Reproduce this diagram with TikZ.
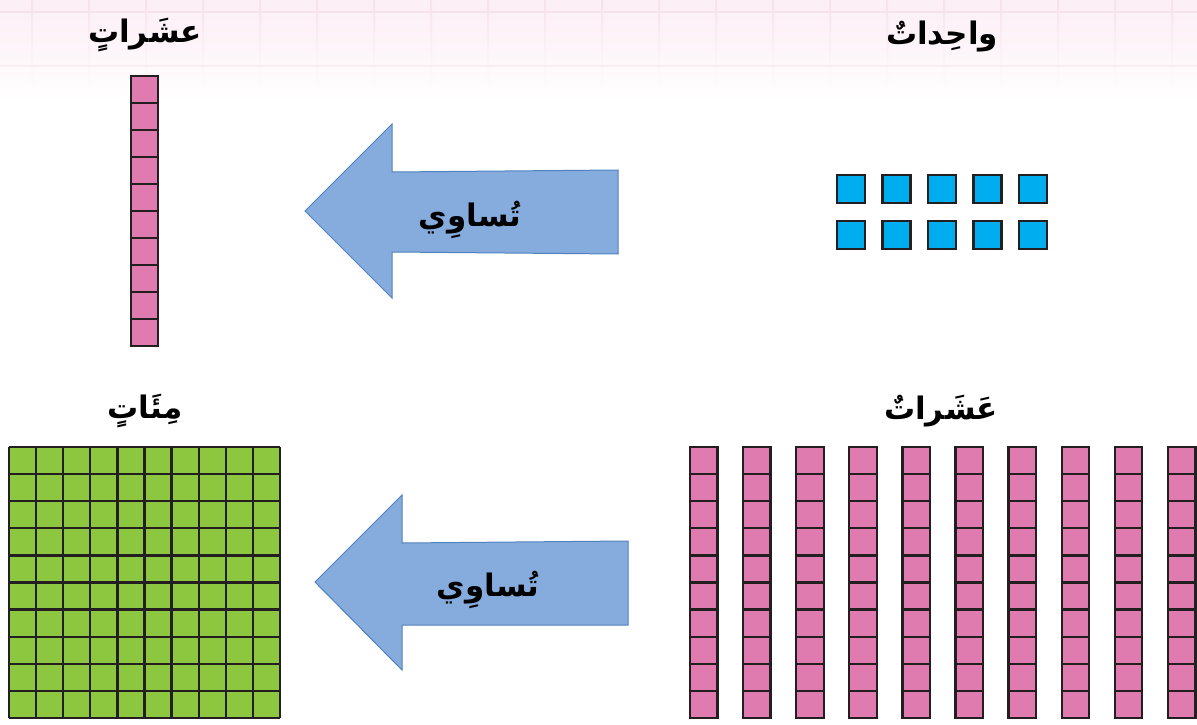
\documentclass[tikz,border=0pt]{standalone}
\usepackage{fontspec}
\newfontfamily\arabicfont[Script=Arabic]{DejaVu Sans}
\TeXXeTstate=1
\definecolor{pinkcell}{RGB}{224,123,176}
\definecolor{greencell}{RGB}{141,198,63}
\definecolor{bluecell}{RGB}{0,174,239}
\definecolor{outline}{RGB}{35,31,32}
\definecolor{arrowfill}{RGB}{133,172,221}
\definecolor{arrowline}{RGB}{79,129,189}
\definecolor{bgpink}{RGB}{252,239,245}
\definecolor{gridpink}{RGB}{246,226,235}
\begin{document}
\begin{tikzpicture}[x=1pt,y=-1pt,
  lbl/.style={font=\arabicfont\bfseries\fontsize{31}{37}\selectfont, inner sep=0pt, text=black},
  cell/.style={draw=outline, line width=2.3pt},
  blockarrow/.style={fill=arrowfill, draw=arrowline, line width=1pt, line join=miter}]
\useasboundingbox (0,0) rectangle (1197,725);
% background band with grid
\shade[top color=bgpink, bottom color=white, middle color=bgpink!60] (0,0) rectangle (1197,100);
\foreach \k in {0,...,20}
  \shade[top color=gridpink, bottom color=white] ({31+57*\k},0) rectangle ({33+57*\k},96);
\fill[gridpink] (0,11) rectangle (1197,13);
\fill[gridpink!60] (0,65) rectangle (1197,67);
% top-left tens column
\foreach \i in {0,...,9}
  \draw[cell, fill=pinkcell] (131,{76+27*\i}) rectangle +(27,27);
% ones
\foreach \i in {0,...,4}
  \foreach \j in {0,1}
    \draw[cell, fill=bluecell] ({837+45.5*\i},{175+46*\j}) rectangle +(28,28);
% hundreds square
\fill[greencell] (9,447) rectangle (280,718);
\foreach \i in {0,...,10} {
  \draw[outline, line width=2.3pt] ({9+27.1*\i},447) -- ({9+27.1*\i},718);
  \draw[outline, line width=2.3pt] (9,{447+27.1*\i}) -- (280,{447+27.1*\i});
}
% ten tens columns
\foreach \k in {0,...,9}
  \foreach \i in {0,...,9}
    \draw[cell, fill=pinkcell] ({690+53.1*\k},{447+27.1*\i}) rectangle +(27.5,27.1);
% arrows
\draw[blockarrow] (305,211) -- (392,124) -- (392,172) -- (618,170) -- (618,254) -- (392,252) -- (392,298) -- cycle;
\draw[blockarrow] (315,582) -- (402,495) -- (402,543) -- (628,541) -- (628,625) -- (402,625) -- (402,670) -- cycle;
% labels
\node[lbl] (eqA) at (470,220) {\beginR تُساوِي\endR};
\node[lbl] (eqB) at (488,590) {\beginR تُساوِي\endR};
\node[lbl] (tensTop) at (145,35) {\beginR عشَراتٍ\endR};
\node[lbl] (ones) at (942,37) {\beginR واحِداتٌ\endR};
\node[lbl] (hundreds) at (145,411) {\beginR مِئَاتٍ\endR};
\node[lbl] (tensBot) at (941,411) {\beginR عَشَراتٌ\endR};
\end{tikzpicture}
\end{document}
